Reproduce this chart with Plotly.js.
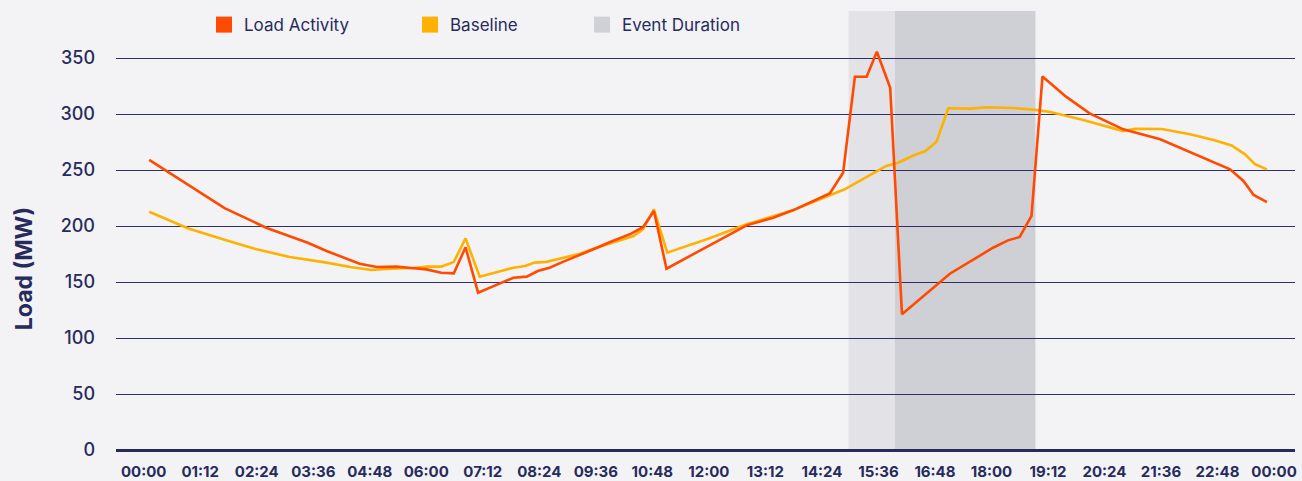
<!DOCTYPE html>
<html>
<head>
<meta charset="utf-8">
<script src="https://cdn.plot.ly/plotly-3.0.1.min.js"></script>
<style>
  html, body { margin: 0; padding: 0; background: #f3f3f6; }
  #chart { width: 1302px; height: 481px; }
</style>
</head>
<body>
<div id="chart"></div>
<script>
// ---- data (x in minutes after midnight) ----
const tickLabels = ['00:00','01:12','02:24','03:36','04:48','06:00','07:12','08:24','09:36','10:48',
                    '12:00','13:12','14:24','15:36','16:48','18:00','19:12','20:24','21:36','22:48','00:00'];
const yTicks = [0, 50, 100, 150, 200, 250, 300, 350];

const loadTimes = [7,103,156,209,233,275,297,322,341,360,379,395,410,426,471,488,502,517,534,553,
                   573,592,621,636,650,666,768,802,827,874,891,906,921,934,951,966,1027,1082,1101,1116,
                   1131,1145,1175,1205,1248,1295,1384,1401,1414,1431];
const loadMW = [259,216,198.5,185,177.7,166.3,163.4,163.7,162.5,161.3,158.3,157.7,181,140.5,153.8,154.8,159.8,162.8,168,173.2,
                179.2,185,193.2,199,213.4,161.9,200.6,207.4,214,229,247.6,333.3,333.3,355.6,323.5,121.2,157.4,180.6,187.2,190.2,
                209,333.6,315.5,300.6,286.3,277.4,250.6,240.2,227.7,221.4];

const baseTimes = [7,56,105,144,186,233,263,290,313,343,362,379,395,410,428,471,486,498,513,553,
                   573,624,636,650,667,721,768,827,893,946,961,982,996,1010,1025,1053,1074,1108,1133,1155,
                   1197,1248,1263,1297,1333,1363,1386,1403,1416,1431];
const baseMW = [212.8,198,187.2,179.2,172.3,167.3,163.4,160.7,161.9,162.5,163.7,163.7,167.9,189,154.8,162.8,164.3,167.3,168,174.7,
                179.7,191,197,214.9,176.2,189,201.5,214,232.8,253.6,256.5,263.4,267,275.3,305.1,304.8,306,305.4,303.9,301.8,
                294.6,284.8,286.9,286.6,281.9,276.8,272,264,255.1,250.6];

const preEventWindow = [898, 957];
const eventWindow = [957, 1136];

const seriesNames = ['Load Activity', 'Baseline', 'Event Duration'];
const seriesColors = ['#ff4a00', '#ffb100', '#d0d1d6'];

// ---- styling ----
const NAVY = '#272b5c';
const FONT = 'Inter, "Open Sans", sans-serif';

const traces = [
  { x: baseTimes, y: baseMW, type: 'scatter', mode: 'lines', name: seriesNames[1],
    line: { color: seriesColors[1], width: 2.6 }, showlegend: false, hoverinfo: 'x+y' },
  { x: loadTimes, y: loadMW, type: 'scatter', mode: 'lines', name: seriesNames[0],
    line: { color: seriesColors[0], width: 2.6 }, showlegend: false, hoverinfo: 'x+y' }
];
// legend entries (square swatches)
const legendIds = ['legend', 'legend2', 'legend3'];
seriesNames.forEach((n, i) => {
  traces.push({ x: [null], y: [null], type: 'scatter', mode: 'markers', name: n,
    marker: { symbol: 'square', size: 16, color: seriesColors[i] },
    showlegend: true, legend: legendIds[i], hoverinfo: 'skip' });
});

const legendBase = (xpx) => ({
  x: (xpx - 116) / 1179, xanchor: 'left',
  y: 0.968, yanchor: 'middle',
  orientation: 'h', bgcolor: 'rgba(0,0,0,0)', borderwidth: 0,
  font: { family: FONT, size: 17, color: NAVY, weight: 400 }
});

const layout = {
  width: 1302, height: 481,
  paper_bgcolor: '#f3f3f6', plot_bgcolor: '#f3f3f6',
  margin: { l: 116, r: 7, t: 11, b: 31 },
  showlegend: true,
  legend: legendBase(204),
  legend2: legendBase(410),
  legend3: legendBase(582),
  xaxis: {
    type: 'linear', range: [-35.3, 1466.7],
    tickmode: 'array', tickvals: tickLabels.map((_, i) => i * 72), ticktext: tickLabels,
    showgrid: false, zeroline: false, showline: false, ticks: '',
    ticklabelstandoff: 11,
    tickfont: { family: FONT, size: 15, color: NAVY, weight: 700 }
  },
  yaxis: {
    range: [0, 392], tickmode: 'array', tickvals: yTicks,
    showgrid: true, gridcolor: '#2e3262', gridwidth: 1.4,
    zeroline: true, zerolinecolor: NAVY, zerolinewidth: 3,
    showline: false, ticks: '', ticklabelstandoff: 20,
    tickfont: { family: FONT, size: 18, color: NAVY, weight: 500 }
  },
  shapes: [
    { type: 'rect', xref: 'x', yref: 'paper', x0: preEventWindow[0], x1: preEventWindow[1], y0: 0, y1: 1,
      fillcolor: '#e2e2e7', line: { width: 0 }, layer: 'below' },
    { type: 'rect', xref: 'x', yref: 'paper', x0: eventWindow[0], x1: eventWindow[1], y0: 0, y1: 1,
      fillcolor: '#cfd0d5', line: { width: 0 }, layer: 'below' }
  ],
  annotations: [
    { text: 'Load (MW)', xref: 'paper', yref: 'paper', x: (24 - 116) / 1179, y: (449.7 - 269) / 438.7,
      xanchor: 'center', yanchor: 'middle', textangle: -90, showarrow: false,
      font: { family: FONT, size: 23, color: NAVY, weight: 700 } }
  ]
};

Plotly.newPlot('chart', traces, layout, { displayModeBar: false, responsive: false });
</script>
</body>
</html>
